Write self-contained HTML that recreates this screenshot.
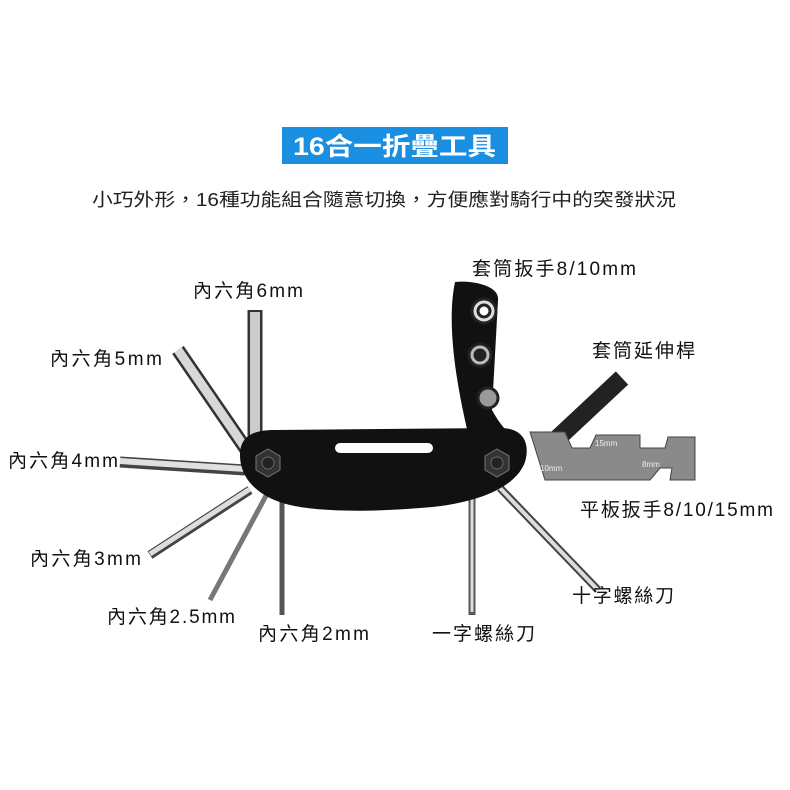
<!DOCTYPE html>
<html><head><meta charset="utf-8"><style>
body{margin:0;background:#fff;width:790px;height:790px;overflow:hidden;font-family:"Liberation Sans","Noto Sans CJK TC",sans-serif;}
svg{position:absolute;left:0;top:0}
</style></head><body>
<svg width="790" height="790" viewBox="0 0 790 790" font-family="Liberation Sans, Noto Sans CJK TC, sans-serif">
<rect x="282" y="127" width="226" height="37" fill="#1a8ee0"/>
<text x="293" y="155" fill="#fff" font-size="25" font-weight="bold" textLength="203" lengthAdjust="spacingAndGlyphs">16合一折疊工具</text>
<text x="92" y="206" fill="#222" font-size="18" textLength="584" lengthAdjust="spacingAndGlyphs">小巧外形，16種功能組合隨意切換，方便應對騎行中的突發狀況</text>
<g stroke-linecap="butt">
<line x1="255" y1="310" x2="255" y2="445" stroke="#333" stroke-width="15"/>
<line x1="255" y1="312" x2="255" y2="445" stroke="#ccc" stroke-width="10"/>
<line x1="178" y1="350" x2="248" y2="452" stroke="#333" stroke-width="14"/>
<line x1="178" y1="350" x2="248" y2="452" stroke="#d8d8d8" stroke-width="9"/>
<line x1="120" y1="462" x2="245" y2="470" stroke="#444" stroke-width="11"/>
<line x1="120" y1="461" x2="245" y2="469" stroke="#e0e0e0" stroke-width="6"/>
<line x1="150" y1="555" x2="250" y2="490" stroke="#444" stroke-width="9"/>
<line x1="150" y1="554" x2="250" y2="489" stroke="#ddd" stroke-width="5"/>
<line x1="210" y1="600" x2="268" y2="492" stroke="#777" stroke-width="5"/>
<line x1="282" y1="495" x2="282" y2="615" stroke="#555" stroke-width="5"/>
<line x1="472" y1="495" x2="472" y2="615" stroke="#555" stroke-width="7"/>
<line x1="472" y1="495" x2="472" y2="612" stroke="#ddd" stroke-width="3"/>
<line x1="500" y1="488" x2="598" y2="590" stroke="#444" stroke-width="8"/>
<line x1="500" y1="488" x2="598" y2="590" stroke="#ddd" stroke-width="4"/>
<line x1="545" y1="450" x2="622" y2="378" stroke="#222" stroke-width="18"/>
</g>
<path d="M455 282 C470 280 500 285 498 300 L492 410 C500 425 510 435 515 440 L470 442 C460 400 445 330 455 282Z" fill="#111"/>
<g stroke="#222" stroke-width="3">
<circle cx="484" cy="311" r="12" fill="#ddd"/><circle cx="484" cy="311" r="6" fill="#fff"/>
<circle cx="480" cy="355" r="11" fill="#bbb"/><circle cx="480" cy="355" r="5" fill="#222"/>
<circle cx="488" cy="398" r="10" fill="#999"/>
</g>
<path d="M530 432 L565 432 L572 448 L590 448 L596 435 L640 435 L640 448 L665 448 L668 437 L695 437 L695 480 L670 480 L672 468 L660 468 L650 480 L545 480 Z" fill="#8a8a8a" stroke="#444"/>
<text x="595" y="446" fill="#eee" font-size="8">15mm</text>
<text x="540" y="471" fill="#eee" font-size="8">10mm</text>
<text x="642" y="467" fill="#eee" font-size="8">8mm</text>
<path d="M240 455 C240 435 255 430 275 430 L500 428 C525 428 530 445 525 462 C515 490 470 505 420 508 C370 512 320 512 290 505 C260 498 240 480 240 455Z" fill="#111"/>
<rect x="335" y="443" width="98" height="10" rx="5" fill="#fff"/>
<polygon points="268,449 280,456 280,470 268,477 256,470 256,456" fill="#333" stroke="#777"/>
<circle cx="268" cy="463" r="6" fill="#222" stroke="#666"/>
<polygon points="497,449 509,456 509,470 497,477 485,470 485,456" fill="#333" stroke="#777"/>
<circle cx="497" cy="463" r="6" fill="#222" stroke="#666"/>
<g font-size="19" fill="#111" lengthAdjust="spacingAndGlyphs">
<text x="472" y="275" textLength="164">套筒扳手8/10mm</text>
<text x="193" y="297" textLength="110">內六角6mm</text>
<text x="592" y="357" textLength="103">套筒延伸桿</text>
<text x="50" y="365" textLength="112">內六角5mm</text>
<text x="8" y="467" textLength="110">內六角4mm</text>
<text x="580" y="516" textLength="193">平板扳手8/10/15mm</text>
<text x="30" y="565" textLength="111">內六角3mm</text>
<text x="572" y="602" textLength="102">十字螺絲刀</text>
<text x="107" y="623" textLength="128">內六角2.5mm</text>
<text x="258" y="640" textLength="111">內六角2mm</text>
<text x="432" y="640" textLength="103">一字螺絲刀</text>
</g>
</svg>
</body></html>
